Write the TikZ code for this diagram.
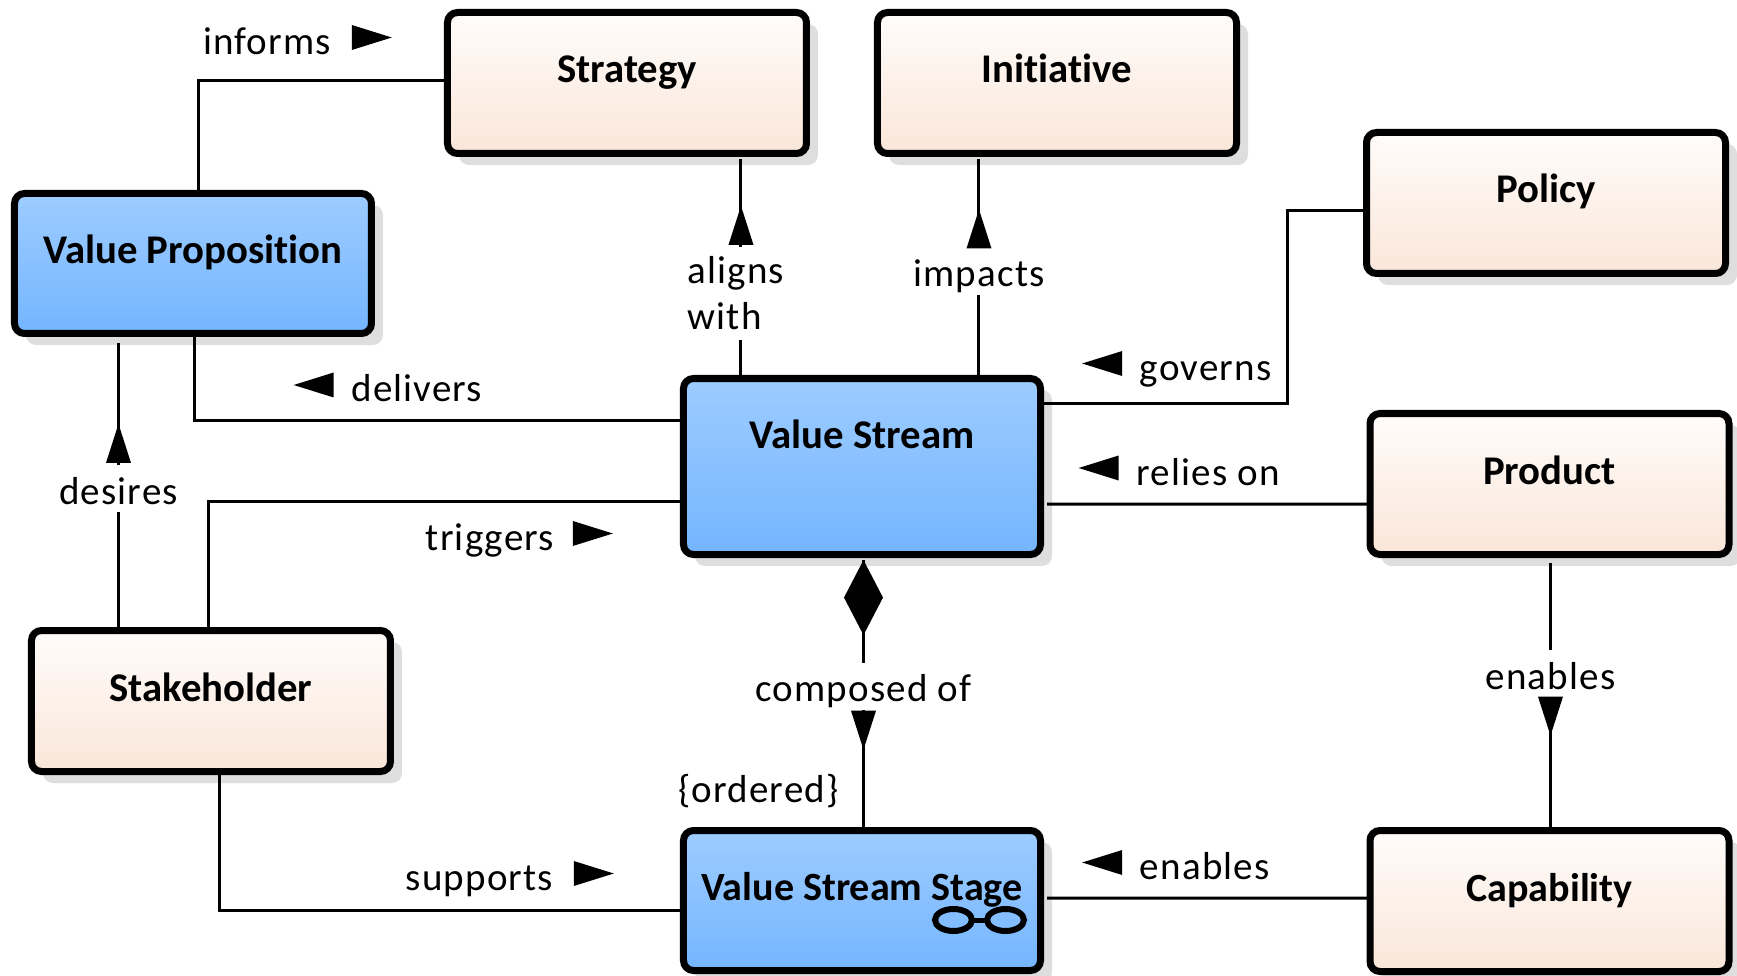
\documentclass[tikz,border=0pt]{standalone}
\usepackage{fontspec}
\setmainfont[Ligatures=CommonOff]{Carlito}
\newfontfamily\lblfont[LetterSpace=3]{Carlito}
\usepackage{tikz}
\usetikzlibrary{positioning, shapes.geometric, shadows, calc}
\definecolor{bluetop}{HTML}{9DCCFF}
\definecolor{bluebot}{HTML}{74B5FF}
\definecolor{sandtop}{HTML}{FFFCFA}
\definecolor{sandbot}{HTML}{FAE6D9}
\tikzset{%
	block/.style={draw, line width=.07cm, rectangle, rounded corners=.1cm, outer sep=0,%
		minimum width=3.59cm, minimum height=1.41cm, inner sep=0, text height=.3cm, text depth=.3cm,%
		font=\fontsize{11.6}{13}\selectfont\bfseries, top color=sandtop, bottom color=sandbot,%
		drop shadow={shadow xshift=.115cm, shadow yshift=-.115cm, fill=black!13, opacity=1}},
	core/.style={block, minimum width=3.57cm, minimum height=1.4cm, top color=bluetop, bottom color=bluebot},
	smaller/.style={font=\fontsize{11.4}{13}\selectfont\bfseries},
	conn/.style={line width=.03cm},
	lbl/.style={fill=white, inner sep=0, text height=.39cm, text depth=.08cm, font=\fontsize{11.1}{13}\selectfont\lblfont},
	marklbl/.style={lbl, fill=none},
	tri/.style={isosceles triangle, isosceles triangle stretches, fill=black, inner sep=0, outer sep=0},
	triright/.style={tri, minimum width=.25cm, minimum height=.4cm, xshift=-.08cm},
	trileft/.style={tri, minimum width=.25cm, minimum height=.4cm, shape border rotate=180, xshift=.08cm},
	triup/.style={tri, minimum width=.25cm, minimum height=.39cm, shape border rotate=90, yshift=-.08cm},
	tridown/.style={tri, minimum width=.25cm, minimum height=.39cm, shape border rotate=270, yshift=.08cm},
	ring/.style={draw, ellipse, line width=.06cm, minimum width=.37cm, minimum height=.22cm, inner sep=0, outer sep=0}
}
\begin{document}
\begin{tikzpicture}[node distance=1 and 1]
	\useasboundingbox (-6.27,.83) rectangle (11.10,-8.93);
	\node[block] (strategy) {Strategy};
	\node[block] (initiative) [right=.71 of strategy] {Initiative};
	\node[core] (vp) [below left=.40 and .76 of strategy] {Value Proposition};
	\node[core, minimum height=1.76cm, text depth=.66cm] (vs) [below right=2.25 and -1.23 of strategy] {Value Stream};
	\node[block] (stakeholder) [below right=2.97 and -3.40 of vp] {Stakeholder};
	\node[core, smaller] (vss) [below=2.76 of vs] {Value Stream Stage};
	\node[block] (policy) [below right=-.21 and 1.30 of initiative] {Policy};
	\node[block] (product) [below right=1.40 and -3.555 of policy] {Product};
	\node[block, smaller] (capability) [below=2.76 of product] {Capability};
	\node[ring] (ring-l) at ([xshift=.915cm, yshift=-.195cm]vss.center) {};
	\node[ring] (ring-r) at ([xshift=1.435cm, yshift=-.195cm]vss.center) {};
	\draw [line width=.05cm] (ring-l) to (ring-r);
	% side connectors
	\draw [conn] ([yshift=.02cm]strategy.west) -| ([xshift=.055cm]vp.north);
	\draw [conn] ([xshift=.015cm]vp.south) |- ([yshift=.465cm]vs.west);
	\draw [conn] ([yshift=-.345cm]vs.west) -| ([xshift=-.02cm]stakeholder.north);
	\draw [conn] ([xshift=.09cm]stakeholder.south) |- ([yshift=-.095cm]vss.west);
	\draw [conn] ([yshift=.635cm]vs.east) -- ++(2.465,0) |- ([yshift=-.08cm]policy.west);
	\draw [conn, shorten <=.065cm] ([yshift=-.375cm]vs.east) to ([yshift=-.2cm]product.west);
	\draw [conn, shorten <=.065cm] ([yshift=.025cm]vss.east) to ([yshift=.03cm]capability.west);
	% connectors with the label on the line
	\draw [conn, shorten >=.055cm] ([xshift=-1.21cm]vs.north) coordinate (align-s) -- (align-s |- strategy.south)
		node[pos=.379, xshift=-.05cm, fill=white, inner sep=0, align=left, minimum height=.93cm, font=\fontsize{11.1}{13}\selectfont\lblfont\setlength\baselineskip{.46cm}] (aligns) {aligns\\with}
		node[triup, pos=.67] (align-t) {};
	\draw [conn, shorten >=.055cm] ([xshift=1.17cm]vs.north) coordinate (impact-s) -- (impact-s |- initiative.south)
		node[lbl, pos=.476] (impacts) {impacts}
		node[triup, pos=.654] (impact-t) {};
	\draw [conn, shorten <=.095cm] ([xshift=-.745cm]vp.south) coordinate (desire-s) -- (desire-s |- stakeholder.north)
		node[lbl, pos=.523] (desires) {desires}
		node[triup, pos=.378] (desire-t) {};
	\draw [conn, shorten <=.085cm] ([xshift=.01cm]product.south) coordinate (enable-s) -- (enable-s |- capability.north)
		node[lbl, pos=.432] (enables-v) {enables}
		node[tridown, pos=.577] (enable-t) {};
	\draw [conn, shorten <=.05cm] ([xshift=.015cm]vs.south) coordinate (comp-s) -- (comp-s |- vss.north)
		node[diamond, fill=black, inner sep=0, outer sep=0, minimum width=.39cm, minimum height=.75cm, pos=.156] (comp-d) {}
		node[lbl, pos=.478] (composed) {composed of}
		node[tridown, pos=.628] (comp-t) {};
	\node[marklbl] (ordered) [above left=.19 and .225 of vss.north] {\{ordered\}};
	% direction marks beside the side connectors
	\node[triright] (inform-t) at ([xshift=-.785cm, yshift=.455cm]strategy.west) {};
	\node[marklbl, yshift=-.015cm] (informs) [left=.2 of inform-t] {informs};
	\node[trileft] (deliver-t) at ([xshift=-3.67cm, yshift=.815cm]vs.west) {};
	\node[marklbl, yshift=-.015cm] (delivers) [right=.17 of deliver-t] {delivers};
	\node[triright] (trigger-t) at ([xshift=-.935cm, yshift=-.67cm]vs.west) {};
	\node[marklbl, yshift=-.015cm] (triggers) [left=.18 of trigger-t] {triggers};
	\node[triright] (support-t) at ([xshift=-.925cm, yshift=.27cm]vss.west) {};
	\node[marklbl, yshift=-.015cm] (supports) [left=.2 of support-t] {supports};
	\node[trileft] (govern-t) at ([xshift=.645cm, yshift=1.03cm]vs.east) {};
	\node[marklbl, yshift=-.015cm] (governs) [right=.17 of govern-t] {governs};
	\node[trileft] (rely-t) at ([xshift=.61cm, yshift=-.015cm]vs.east) {};
	\node[marklbl, yshift=-.015cm] (relies) [right=.17 of rely-t] {relies on};
	\node[trileft] (enable-h) at ([xshift=.645cm, yshift=.38cm]vss.east) {};
	\node[marklbl, yshift=-.015cm] (enables-h) [right=.17 of enable-h] {enables};
\end{tikzpicture}
\end{document}
